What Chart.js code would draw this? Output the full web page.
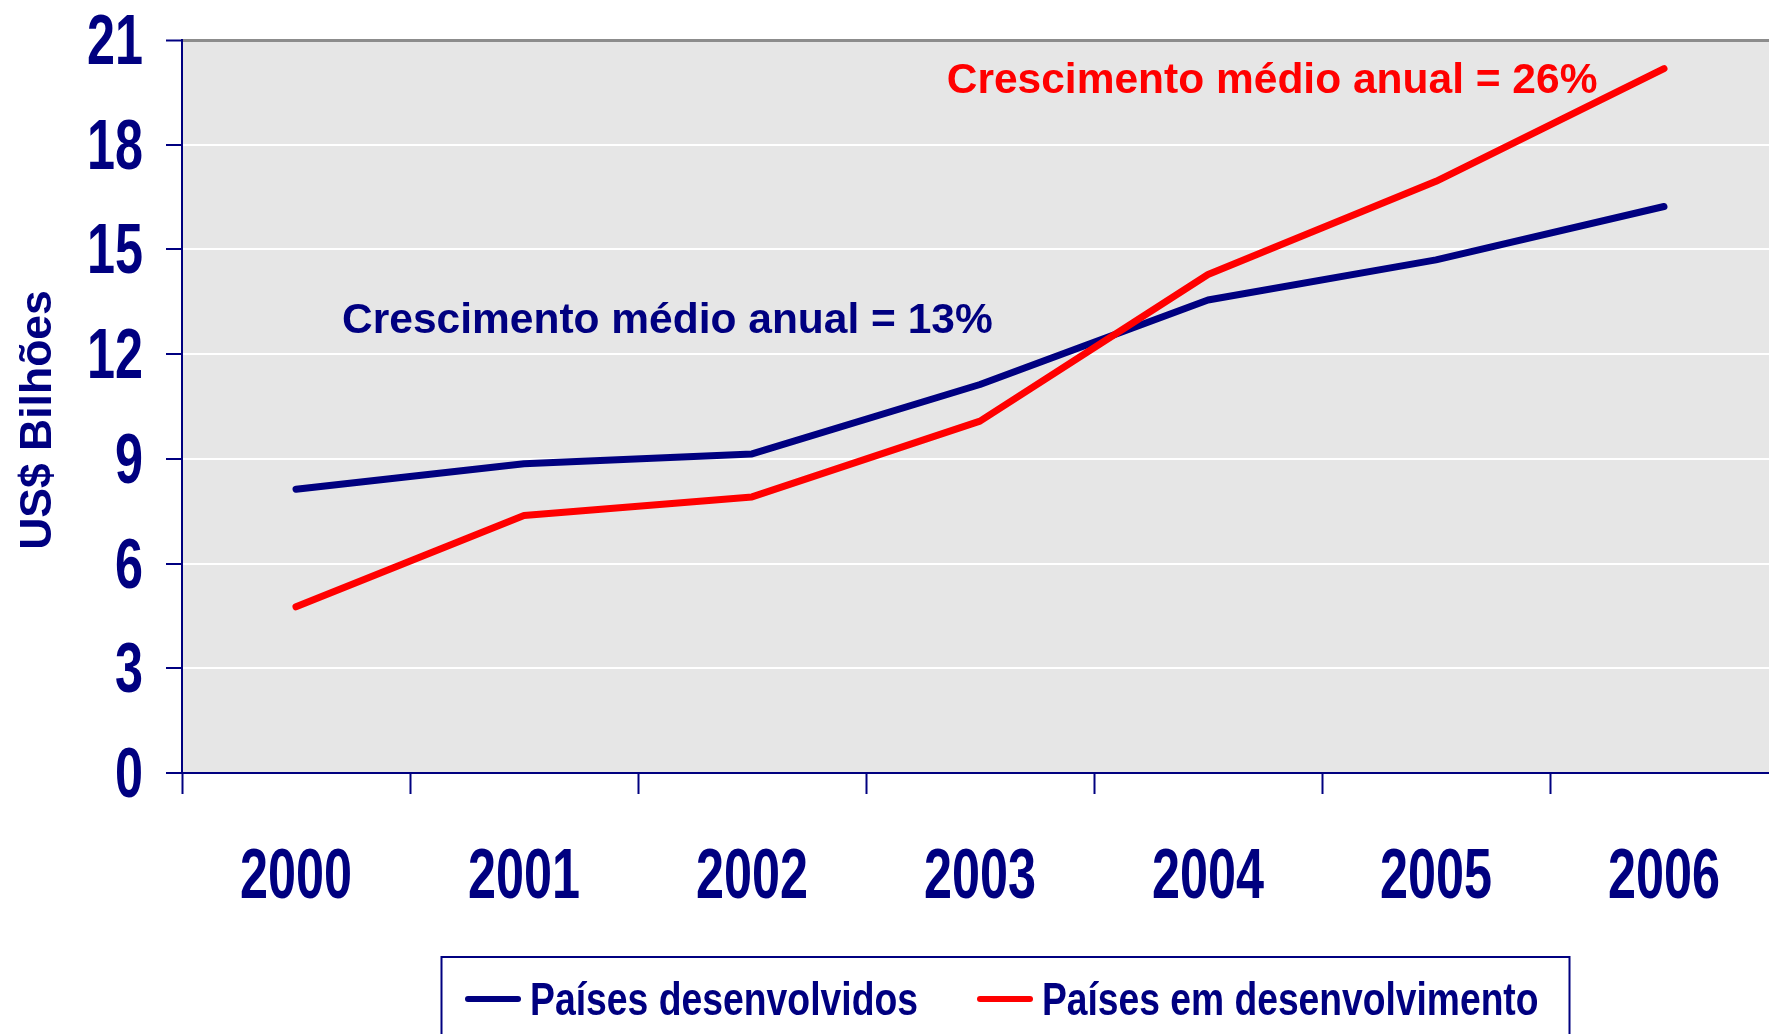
<!DOCTYPE html>
<html>
<head>
<meta charset="utf-8">
<script src="https://cdn.jsdelivr.net/npm/chart.js@4.4.1/dist/chart.umd.min.js"></script>
<style>
    html, body { margin: 0; padding: 0; background: #ffffff; overflow: hidden; }
    canvas { display: block; }
</style>
</head>
<body>
<canvas id="chart" width="1778" height="1034"></canvas>
<script>
const years = ["2000", "2001", "2002", "2003", "2004", "2005", "2006"];
const desenvolvidos = [8.13, 8.86, 9.14, 11.13, 13.55, 14.70, 16.23];
const emDesenvolvimento = [4.76, 7.38, 7.91, 10.08, 14.28, 16.95, 20.18];
const yTicks = [0, 3, 6, 9, 12, 15, 18, 21];
const seriesLabels = ["Países desenvolvidos", "Países em desenvolvimento"];
const notes = ["Crescimento médio anual = 13%", "Crescimento médio anual = 26%"];

const NAVY = "#000080";
const RED = "#ff0000";
const NARROW = '"Liberation Sans Narrow", "Arial Narrow", "Liberation Sans", sans-serif';
const SANS = '"Liberation Sans", Arial, sans-serif';

// draw text squeezed to a given width
function squeezed(ctx, text, x, y, width, align) {
    const w = ctx.measureText(text).width;
    const sx = Math.min(1, width / w);
    ctx.save();
    ctx.translate(x, y);
    ctx.scale(sx, 1);
    ctx.textAlign = align;
    ctx.fillText(text, 0, 0);
    ctx.restore();
}

const decor = {
    id: "decor",
    beforeDraw(chart) {
        const { ctx, chartArea: a } = chart;
        ctx.save();
        ctx.fillStyle = "#e6e6e6";
        ctx.fillRect(a.left, a.top, a.right - a.left, a.bottom - a.top);
        ctx.restore();
    },
    afterDraw(chart) {
        const { ctx, scales } = chart;
        ctx.save();
        ctx.fillStyle = NAVY;
        ctx.textBaseline = "alphabetic";

        // tick labels
        ctx.font = "bold 71px " + NARROW;
        const digitW = 112 / 4;
        yTicks.forEach(v => {
            const s = String(v);
            squeezed(ctx, s, 143, scales.y.getPixelForValue(v) + 24, digitW * s.length, "right");
        });
        years.forEach((y, i) => {
            squeezed(ctx, y, scales.x.getPixelForValue(i), 898, digitW * 4, "center");
        });

        // axis title
        ctx.font = "bold 44.5px " + SANS;
        ctx.save();
        ctx.translate(51, 420);
        ctx.rotate(-Math.PI / 2);
        ctx.textAlign = "center";
        ctx.fillText("US$ Bilhões", 0, 0);
        ctx.restore();

        // growth notes
        ctx.font = "bold 42.5px " + SANS;
        ctx.textAlign = "left";
        ctx.fillStyle = NAVY;
        ctx.fillText(notes[0], scales.x.getPixelForValue(0.202), scales.y.getPixelForValue(12.6));
        ctx.fillStyle = RED;
        ctx.fillText(notes[1], scales.x.getPixelForValue(2.854), scales.y.getPixelForValue(19.48));

        // legend
        ctx.strokeStyle = NAVY;
        ctx.lineWidth = 2;
        ctx.strokeRect(441.5, 957, 1128, 120);

        const items = [
            { x: 468, color: NAVY, label: seriesLabels[0], w: 388 },
            { x: 980, color: RED, label: seriesLabels[1], w: 496.5 }
        ];
        ctx.font = "bold 45.5px " + NARROW;
        items.forEach(it => {
            ctx.strokeStyle = it.color;
            ctx.lineWidth = 6;
            ctx.lineCap = "round";
            ctx.beginPath();
            ctx.moveTo(it.x, 999);
            ctx.lineTo(it.x + 50, 999);
            ctx.stroke();
            ctx.fillStyle = NAVY;
            squeezed(ctx, it.label, it.x + 62, 1015, it.w, "left");
        });
        ctx.restore();
    }
};

new Chart(document.getElementById("chart"), {
    type: "line",
    data: {
        labels: years,
        datasets: [
            {
                label: seriesLabels[0],
                data: desenvolvidos,
                borderColor: NAVY,
                borderWidth: 7,
                pointRadius: 0,
                borderCapStyle: "round",
                borderJoinStyle: "round",
                tension: 0,
                order: 1
            },
            {
                label: seriesLabels[1],
                data: emDesenvolvimento,
                borderColor: RED,
                borderWidth: 7,
                pointRadius: 0,
                borderCapStyle: "round",
                borderJoinStyle: "round",
                tension: 0,
                order: 0
            }
        ]
    },
    options: {
        responsive: false,
        animation: false,
        devicePixelRatio: 1,
        layout: {
            padding: { top: 40, left: 0, right: 0, bottom: 0 }
        },
        scales: {
            x: {
                offset: true,
                afterFit: (scale) => { scale.height = 261; },
                grid: {
                    offset: true,
                    drawOnChartArea: false,
                    drawTicks: true,
                    tickLength: 21,
                    tickColor: NAVY,
                    tickWidth: 2,
                    color: NAVY
                },
                border: { color: NAVY, width: 2 },
                ticks: { display: false }
            },
            y: {
                min: 0,
                max: 21,
                afterFit: (scale) => { scale.width = 182; },
                ticks: { display: false, stepSize: 3 },
                grid: {
                    color: (c) => c.tick && c.tick.value === 21 ? "#8c8c8c" : "#ffffff",
                    lineWidth: (c) => c.tick && c.tick.value === 21 ? 3 : 2,
                    drawTicks: true,
                    tickLength: 16,
                    tickColor: NAVY,
                    tickWidth: 2
                },
                border: { color: NAVY, width: 2 }
            }
        },
        plugins: {
            legend: { display: false },
            tooltip: { enabled: false }
        }
    },
    plugins: [decor]
});
</script>
</body>
</html>
